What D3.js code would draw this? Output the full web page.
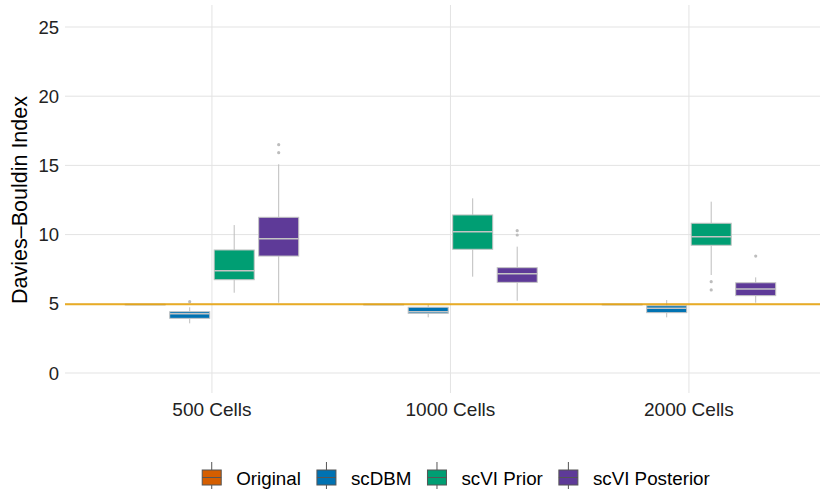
<!DOCTYPE html>
<html>
<head>
<meta charset="utf-8">
<script src="https://cdn.jsdelivr.net/npm/d3@7"></script>
<style>
  body { margin: 0; background: #fff; }
  svg { display: block; font-family: "Liberation Sans", Arial, sans-serif; }
</style>
</head>
<body>
<svg id="chart" width="820" height="489"></svg>
<script>
// box stats per category: [lower whisker, q1, median, q3, upper whisker]
const categories = ["500 Cells", "1000 Cells", "2000 Cells"];
const methods = ["Original", "scDBM", "scVI Prior", "scVI Posterior"];
const methodColors = ["#D55E00", "#0072B2", "#009E73", "#5E3A98"];

const originalStats = [[4.93, 4.95, 4.95, 4.96, 4.98], [4.93, 4.95, 4.95, 4.96, 4.98], [4.93, 4.95, 4.95, 4.96, 4.98]];
const scdbmStats = [[3.59, 3.95, 4.28, 4.43, 4.75], [4.02, 4.31, 4.43, 4.75, 4.95], [4.02, 4.36, 4.67, 4.86, 5.27]];
const priorStats = [[5.80, 6.74, 7.39, 8.89, 10.69], [6.96, 8.94, 10.21, 11.42, 12.62], [7.08, 9.23, 9.85, 10.82, 12.38]];
const posteriorStats = [[5.08, 8.45, 9.70, 11.25, 15.08], [5.22, 6.55, 7.17, 7.61, 9.13], [5.08, 5.59, 6.07, 6.52, 6.91]];

// outliers: [method, category, value]
const outliers = [
  ["scDBM", "500 Cells", 5.15],
  ["scVI Posterior", "500 Cells", 15.92],
  ["scVI Posterior", "500 Cells", 16.50],
  ["scVI Posterior", "1000 Cells", 9.97],
  ["scVI Posterior", "1000 Cells", 10.28],
  ["scVI Prior", "2000 Cells", 6.60],
  ["scVI Prior", "2000 Cells", 6.00],
  ["scVI Posterior", "2000 Cells", 8.45]
];

const referenceLine = 4.96;
const yTicks = [0, 5, 10, 15, 20, 25];

const allStats = [originalStats, scdbmStats, priorStats, posteriorStats];

let boxes = [];
methods.forEach((m, i) => {
    categories.forEach((c, j) => {
        let s = allStats[i][j];
        boxes.push({method: m, category: c, lo: s[0], q1: s[1], med: s[2], q3: s[3], hi: s[4]});
    });
});

const svg = d3.select("#chart");
const panel = {left: 65, right: 820, top: 5, bottom: 393};

const x = d3.scaleBand()
    .domain(categories)
    .range([92.7, 808.2])
    .paddingInner(0)
    .paddingOuter(0);

const dodge = d3.scaleBand()
    .domain(methods)
    .range([-89, 89])
    .paddingInner(0.1)
    .paddingOuter(0.05);

const y = d3.scaleLinear()
    .domain([0, 25])
    .range([373, 27]);

const color = d3.scaleOrdinal().domain(methods).range(methodColors);

const cx = (c) => x(c) + x.bandwidth() / 2;

// grid
svg.append("g")
    .selectAll("line")
    .data(yTicks)
    .enter()
    .append("line")
    .attr("x1", panel.left)
    .attr("x2", panel.right)
    .attr("y1", d => y(d))
    .attr("y2", d => y(d))
    .attr("stroke", "#e3e3e3")
    .attr("stroke-width", 1);

svg.append("g")
    .selectAll("line")
    .data(categories)
    .enter()
    .append("line")
    .attr("x1", d => cx(d))
    .attr("x2", d => cx(d))
    .attr("y1", panel.top)
    .attr("y2", panel.bottom)
    .attr("stroke", "#e3e3e3")
    .attr("stroke-width", 1);

// y tick labels
svg.append("g")
    .selectAll("text")
    .data(yTicks)
    .enter()
    .append("text")
    .attr("x", 59)
    .attr("y", d => y(d))
    .attr("dy", "0.36em")
    .attr("text-anchor", "end")
    .attr("font-size", 18.5)
    .attr("fill", "#222")
    .text(d => d);

// x tick labels
svg.append("g")
    .selectAll("text")
    .data(categories)
    .enter()
    .append("text")
    .attr("x", d => cx(d))
    .attr("y", 416)
    .attr("text-anchor", "middle")
    .attr("font-size", 19)
    .attr("fill", "#222")
    .text(d => d);

// y title
svg.append("text")
    .attr("transform", "translate(27,200) rotate(-90)")
    .attr("text-anchor", "middle")
    .attr("font-size", 21.5)
    .attr("fill", "#000")
    .text("Davies\u2013Bouldin Index");

// boxes
const bw = dodge.bandwidth();
const g = svg.append("g");
const box = g.selectAll("g.box")
    .data(boxes)
    .enter()
    .append("g")
    .attr("class", "box")
    .attr("transform", d => `translate(${cx(d.category) + dodge(d.method)},0)`);

box.append("line")
    .attr("x1", bw / 2).attr("x2", bw / 2)
    .attr("y1", d => y(d.hi)).attr("y2", d => y(d.q3))
    .attr("stroke", "#bdbdbd");
box.append("line")
    .attr("x1", bw / 2).attr("x2", bw / 2)
    .attr("y1", d => y(d.q1)).attr("y2", d => y(d.lo))
    .attr("stroke", "#bdbdbd");
box.append("rect")
    .attr("x", 0)
    .attr("width", bw)
    .attr("y", d => y(d.q3))
    .attr("height", d => Math.max(0.5, y(d.q1) - y(d.q3)))
    .attr("fill", d => color(d.method))
    .attr("stroke", "#c4c4c4")
    .attr("stroke-width", 1);
box.append("line")
    .attr("x1", 0).attr("x2", bw)
    .attr("y1", d => y(d.med)).attr("y2", d => y(d.med))
    .attr("stroke", "#c4c4c4")
    .attr("stroke-width", 1.5);

g.selectAll("circle")
    .data(outliers)
    .enter()
    .append("circle")
    .attr("cx", d => cx(d[1]) + dodge(d[0]) + bw / 2)
    .attr("cy", d => y(d[2]))
    .attr("r", 1.6)
    .attr("fill", "#bdbdbd");

// reference line
svg.append("line")
    .attr("x1", panel.left)
    .attr("x2", panel.right)
    .attr("y1", y(referenceLine))
    .attr("y2", y(referenceLine))
    .attr("stroke", "#E69F00")
    .attr("stroke-opacity", 0.85)
    .attr("stroke-width", 2);

// legend
const legend = svg.append("g");
let lx = 0;
methods.forEach((m) => {
    let it = legend.append("g").attr("transform", `translate(${lx},0)`);
    it.append("line").attr("x1", 9.5).attr("x2", 9.5).attr("y1", -16).attr("y2", 11).attr("stroke", "#555");
    it.append("rect").attr("x", 0).attr("y", -8).attr("width", 19).attr("height", 15)
        .attr("fill", color(m)).attr("stroke", "#555").attr("stroke-width", 1);
    it.append("line").attr("x1", 0).attr("x2", 19).attr("y1", -0.5).attr("y2", -0.5).attr("stroke", "#555");
    let t = it.append("text").attr("x", 34).attr("y", 0).attr("dy", "0.36em")
        .attr("font-size", 18.8).attr("fill", "#000").text(m);
    lx += 34 + t.node().getComputedTextLength() + 16;
});
lx -= 16;
legend.attr("transform", `translate(${456 - lx / 2},478)`);
</script>
</body>
</html>
